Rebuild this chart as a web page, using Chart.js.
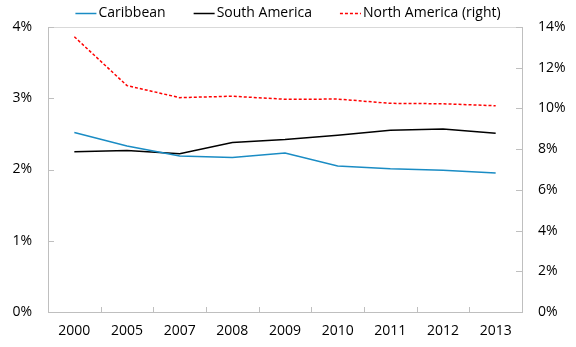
<!DOCTYPE html>
<html>
<head>
<meta charset="utf-8">
<script src="https://cdn.jsdelivr.net/npm/chart.js@4/dist/chart.umd.min.js"></script>
<style>
  body { margin: 0; background: #fff; }
</style>
</head>
<body>
<canvas id="regionChart" width="576" height="347"></canvas>
<script>
// Data
const years = ['2000', '2005', '2007', '2008', '2009', '2010', '2011', '2012', '2013'];
const caribbean = [2.52, 2.33, 2.19, 2.17, 2.23, 2.05, 2.01, 1.99, 1.95];
const southAmerica = [2.25, 2.265, 2.22, 2.38, 2.42, 2.48, 2.55, 2.57, 2.51];
const northAmerica = [13.52, 11.12, 10.53, 10.6, 10.45, 10.46, 10.25, 10.23, 10.13];

const axisGrey = '#bfbfbf';

Chart.defaults.font.family = '"Open Sans", sans-serif';
Chart.defaults.font.size = 14;
Chart.defaults.color = '#000';

// Legend row: short line sample right next to each label
const lineLegend = {
    id: 'lineLegend',
    afterDraw(chart) {
        const ctx = chart.ctx;
        const sample = 21, gap = 2, spacing = 28, y = 13;
        ctx.save();
        ctx.font = '14px "Open Sans", sans-serif';
        ctx.textBaseline = 'middle';
        const sets = chart.data.datasets;
        const widths = sets.map(ds => sample + gap + ctx.measureText(ds.label).width);
        const total = widths.reduce((a, b) => a + b, 0) + spacing * (sets.length - 1);
        let x = (chart.width - total) / 2;
        sets.forEach((ds, i) => {
            ctx.strokeStyle = ds.borderColor;
            ctx.lineWidth = ds.borderWidth;
            ctx.setLineDash(ds.borderDash || []);
            ctx.beginPath();
            ctx.moveTo(x, y + 0.5);
            ctx.lineTo(x + sample, y + 0.5);
            ctx.stroke();
            ctx.setLineDash([]);
            ctx.fillStyle = '#000';
            ctx.fillText(ds.label, x + sample + gap, y);
            x += widths[i] + spacing;
        });
        ctx.restore();
    }
};

// Frame top edge and tick marks pointing into the plot
const insideTicks = {
    id: 'insideTicks',
    beforeDatasetsDraw(chart) {
        const { ctx, chartArea: area, scales } = chart;
        ctx.save();
        ctx.lineWidth = 1;
        ctx.strokeStyle = '#d9d9d9';
        ctx.beginPath();
        ctx.moveTo(area.left, Math.round(area.top) + 0.5);
        ctx.lineTo(area.right, Math.round(area.top) + 0.5);
        ctx.stroke();

        ctx.strokeStyle = axisGrey;
        ctx.beginPath();
        scales.y.ticks.forEach(t => {
            const py = Math.round(scales.y.getPixelForValue(t.value)) + 0.5;
            ctx.moveTo(area.left, py);
            ctx.lineTo(area.left + 6, py);
        });
        scales.y1.ticks.forEach(t => {
            const py = Math.round(scales.y1.getPixelForValue(t.value)) + 0.5;
            ctx.moveTo(area.right, py);
            ctx.lineTo(area.right - 6, py);
        });
        for (let i = 1; i < years.length; i++) {
            const px = Math.round((scales.x.getPixelForValue(i - 1) + scales.x.getPixelForValue(i)) / 2) + 0.5;
            ctx.moveTo(px, area.bottom);
            ctx.lineTo(px, area.bottom - 5);
        }
        ctx.stroke();
        ctx.restore();
    }
};

const chart = new Chart(document.getElementById('regionChart'), {
    type: 'line',
    data: {
        labels: years,
        datasets: [
            {
                label: 'Caribbean',
                data: caribbean,
                borderColor: '#1a8cc4',
                borderWidth: 1.5,
                yAxisID: 'y'
            },
            {
                label: 'South America',
                data: southAmerica,
                borderColor: '#000000',
                borderWidth: 1.5,
                yAxisID: 'y'
            },
            {
                label: 'North America (right)',
                data: northAmerica,
                borderColor: '#ff0000',
                borderWidth: 1.5,
                borderDash: [3, 2],
                yAxisID: 'y1'
            }
        ]
    },
    options: {
        responsive: false,
        animation: false,
        devicePixelRatio: 1,
        elements: {
            point: { radius: 0 },
            line: { tension: 0 }
        },
        layout: { padding: { top: 27 } },
        plugins: {
            legend: { display: false },
            tooltip: { enabled: false }
        },
        scales: {
            x: {
                offset: true,
                grid: { display: false, drawTicks: false },
                border: { color: axisGrey },
                ticks: { padding: 11, maxRotation: 0 },
                afterFit(scale) { scale.height = 35; }
            },
            y: {
                position: 'left',
                min: 0,
                max: 4,
                grid: { display: false, drawTicks: false },
                border: { color: axisGrey },
                ticks: { stepSize: 1, padding: 16, callback: v => v + '%' },
                afterFit(scale) { scale.width = 48; }
            },
            y1: {
                position: 'right',
                min: 0,
                max: 14,
                grid: { display: false, drawTicks: false },
                border: { color: axisGrey },
                ticks: { stepSize: 2, padding: 16, callback: v => v + '%' },
                afterFit(scale) { scale.width = 54; }
            }
        }
    },
    plugins: [insideTicks, lineLegend]
});
</script>
</body>
</html>
